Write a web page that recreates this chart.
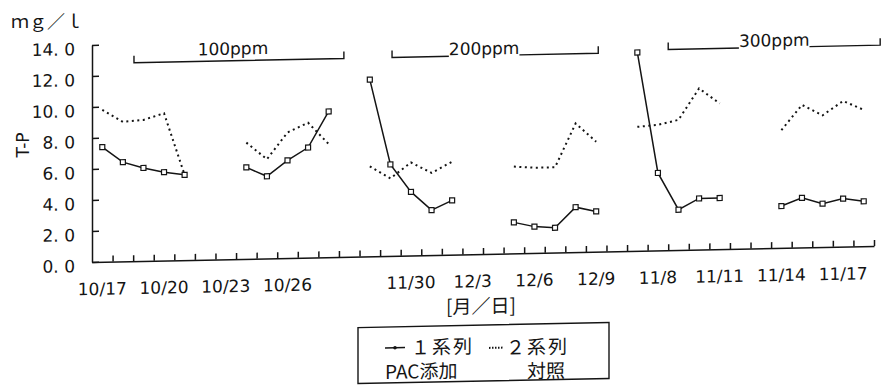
<!DOCTYPE html>
<html>
<head>
<meta charset="utf-8">
<script src="https://cdn.jsdelivr.net/npm/d3@7"></script>
<style>
  body { margin: 0; background: #fff; }
</style>
</head>
<body>
<div id="chart"></div>
<script>
// x categories (one per day), only every third one is labelled
let tickLabels = [
  '10/17', '', '', '10/20', '', '', '10/23', '', '', '10/26', '', '',
  '', '', '', '11/30', '', '', '12/3', '', '', '12/6', '', '',
  '12/9', '', '', '11/8', '', '', '11/11', '', '', '11/14', '', '',
  '11/17', ''
]

let yTicks = [0, 2, 4, 6, 8, 10, 12, 14]

// 1系列 PAC添加 (solid)
let series1 = [
  7.4, 6.4, 6.0, 5.7, 5.5, null, null,
  5.9, 5.3, 6.3, 7.1, 9.4, null,
  11.4, 5.9, 4.1, 2.9, 3.5, null, null,
  2.0, 1.7, 1.6, 2.9, 2.6, null,
  12.8, 5.0, 2.6, 3.3, 3.3, null, null,
  2.7, 3.2, 2.8, 3.1, 2.9
]

// 2系列 対照 (dotted)
let series2 = [
  9.8, 9.0, 9.1, 9.5, 5.5, null, null,
  7.5, 6.4, 8.1, 8.7, 7.3, null,
  5.8, 5.0, 6.0, 5.3, 6.0, null, null,
  5.6, 5.5, 5.5, 8.3, 7.1, null,
  8.0, 8.1, 8.4, 10.4, 9.4, null, null,
  7.6, 9.2, 8.5, 9.4, 8.8
]

// dosing periods, in category units
let groupLabels = ['100ppm', '200ppm', '300ppm']
let groupStart = [2.04, 14.58, 28.0]
let groupEnd = [12.24, 24.6, 38.3]
let groupLevel = [12.8, 12.8, 12.95]

let ink = '#141414'
let latin = 'DejaVu Sans, sans-serif'
let cjk = '"Noto Sans CJK JP", sans-serif'

let plotLeft = 92
let plotRight = 874
let plotTop = 45
let plotBottom = 262

let svg = d3
  .select('#chart')
  .append('svg')
  .attr('width', 889)
  .attr('height', 385)

// the scanned page is slightly sheared, mimic it
let g = svg
  .append('g')
  .attr('transform', 'translate(' + plotLeft + ',0) skewY(-1.17) translate(' + -plotLeft + ',0)')

let xPositionScale = d3
  .scaleBand()
  .domain(d3.range(tickLabels.length))
  .range([plotLeft, plotRight])

let xEdgeScale = d3
  .scaleLinear()
  .domain([0, tickLabels.length])
  .range([plotLeft, plotRight])

let yPositionScale = d3
  .scaleLinear()
  .domain([0, 14])
  .range([plotBottom, plotTop])

let xCenter = i => xPositionScale(i) + xPositionScale.bandwidth() / 2

// y axis, ticks pointing inward
let yAxis = d3
  .axisLeft(yPositionScale)
  .tickValues(yTicks)
  .tickSizeInner(-7)
  .tickSizeOuter(0)
  .tickPadding(17)
  .tickFormat(d => d.toFixed(1).replace('.', '. '))
let yAxisG = g
  .append('g')
  .attr('transform', 'translate(' + plotLeft + ',0)')
  .call(yAxis)
yAxisG
  .selectAll('text')
  .attr('font-family', latin)
  .attr('font-size', 17)
  .attr('fill', ink)
  .attr('dy', '0.55em')

// x axis line with ticks between days
let xTickAxis = d3
  .axisBottom(xEdgeScale)
  .tickValues(d3.range(1, tickLabels.length + 1))
  .tickSizeInner(-6)
  .tickSizeOuter(0)
  .tickFormat('')
g.append('g')
  .attr('transform', 'translate(0,' + plotBottom + ')')
  .call(xTickAxis)

// x labels centred on the days
let xLabelAxis = d3
  .axisBottom(xPositionScale)
  .tickSize(0)
  .tickPadding(21)
  .tickFormat(i => tickLabels[i])
let xLabelG = g
  .append('g')
  .attr('transform', 'translate(0,' + plotBottom + ')')
  .call(xLabelAxis)
xLabelG.select('.domain').remove()
xLabelG
  .selectAll('text')
  .attr('font-family', latin)
  .attr('font-size', 17)
  .attr('fill', ink)

g.selectAll('.domain, .tick line')
  .attr('stroke', ink)
  .attr('stroke-width', 1.5)

// dosing brackets
groupLabels.forEach((label, i) => {
  let x0 = xEdgeScale(groupStart[i])
  let x1 = xEdgeScale(groupEnd[i])
  let y = yPositionScale(groupLevel[i])
  let lift = i === 0 ? 6 : 1
  g.append('path')
    .attr('d', 'M' + x0 + ',' + (y - 7) + 'V' + y + 'H' + x1 + 'V' + (y - 7))
    .attr('fill', 'none')
    .attr('stroke', ink)
    .attr('stroke-width', 1.4)
  let t = g
    .append('text')
    .attr('x', (x0 + x1) / 2 - (i === 0 ? 6 : i === 1 ? 11 : 0))
    .attr('y', y - lift)
    .attr('text-anchor', 'middle')
    .attr('font-family', latin)
    .attr('font-size', 17)
    .attr('fill', ink)
    .text(label)
  if (i > 0) {
    let bb = t.node().getBBox()
    g.insert('rect', () => t.node())
      .attr('x', bb.x)
      .attr('y', y - 2)
      .attr('width', bb.width)
      .attr('height', 4)
      .attr('fill', '#fff')
  }
})

let line = d3
  .line()
  .defined(d => d != null)
  .x((d, i) => xCenter(i))
  .y(d => yPositionScale(d))

g.append('path')
  .datum(series2)
  .attr('d', line)
  .attr('fill', 'none')
  .attr('stroke', ink)
  .attr('stroke-width', 2)
  .attr('stroke-dasharray', '2,3.5')

g.append('path')
  .datum(series1)
  .attr('d', line)
  .attr('fill', 'none')
  .attr('stroke', ink)
  .attr('stroke-width', 1.5)

g.selectAll('.s1-marker')
  .data(series1.map((v, i) => ({ v: v, i: i })).filter(d => d.v != null))
  .enter()
  .append('rect')
  .attr('class', 's1-marker')
  .attr('x', d => xCenter(d.i) - 2.5)
  .attr('y', d => yPositionScale(d.v) - 2.5)
  .attr('width', 5)
  .attr('height', 5)
  .attr('fill', '#fff')
  .attr('stroke', ink)
  .attr('stroke-width', 1.2)

// axis titles
svg
  .append('text')
  .attr('x', 11)
  .attr('y', 28)
  .attr('font-family', cjk)
  .attr('font-size', 18)
  .attr('fill', ink)
  .text('ｍｇ／ｌ')

svg
  .append('text')
  .attr('transform', 'translate(29,145) rotate(-90)')
  .attr('text-anchor', 'middle')
  .attr('font-family', latin)
  .attr('font-size', 17)
  .attr('fill', ink)
  .text('T-P')

g.append('text')
  .attr('x', 481)
  .attr('y', 321)
  .attr('text-anchor', 'middle')
  .attr('font-family', cjk)
  .attr('font-size', 19)
  .attr('fill', ink)
  .text('[月／日]')

// legend
let legend = g.append('g')
legend
  .append('rect')
  .attr('x', 358)
  .attr('y', 333)
  .attr('width', 251)
  .attr('height', 56)
  .attr('fill', '#fff')
  .attr('stroke', ink)
  .attr('stroke-width', 1.4)

legend
  .append('line')
  .attr('x1', 385)
  .attr('x2', 405)
  .attr('y1', 354)
  .attr('y2', 354)
  .attr('stroke', ink)
  .attr('stroke-width', 1.5)
legend
  .append('circle')
  .attr('cx', 395)
  .attr('cy', 354)
  .attr('r', 1.8)
  .attr('fill', ink)

legend
  .append('line')
  .attr('x1', 489)
  .attr('x2', 503)
  .attr('y1', 356)
  .attr('y2', 356)
  .attr('stroke', ink)
  .attr('stroke-width', 2)
  .attr('stroke-dasharray', '1.5,1.5')

let legendText = [
  { text: '１系列', x: 411, y: 361 },
  { text: '２系列', x: 506, y: 363 },
  { text: 'PAC添加', x: 385, y: 385 },
  { text: '対照', x: 527, y: 387 }
]
legend
  .selectAll('.legend-text')
  .data(legendText)
  .enter()
  .append('text')
  .attr('class', 'legend-text')
  .attr('x', d => d.x)
  .attr('y', d => d.y)
  .attr('font-family', cjk)
  .attr('font-size', 19)
  .attr('letter-spacing', d => (d.text.indexOf('系列') > -1 ? 2 : 0))
  .attr('fill', ink)
  .text(d => d.text)
</script>
</body>
</html>
